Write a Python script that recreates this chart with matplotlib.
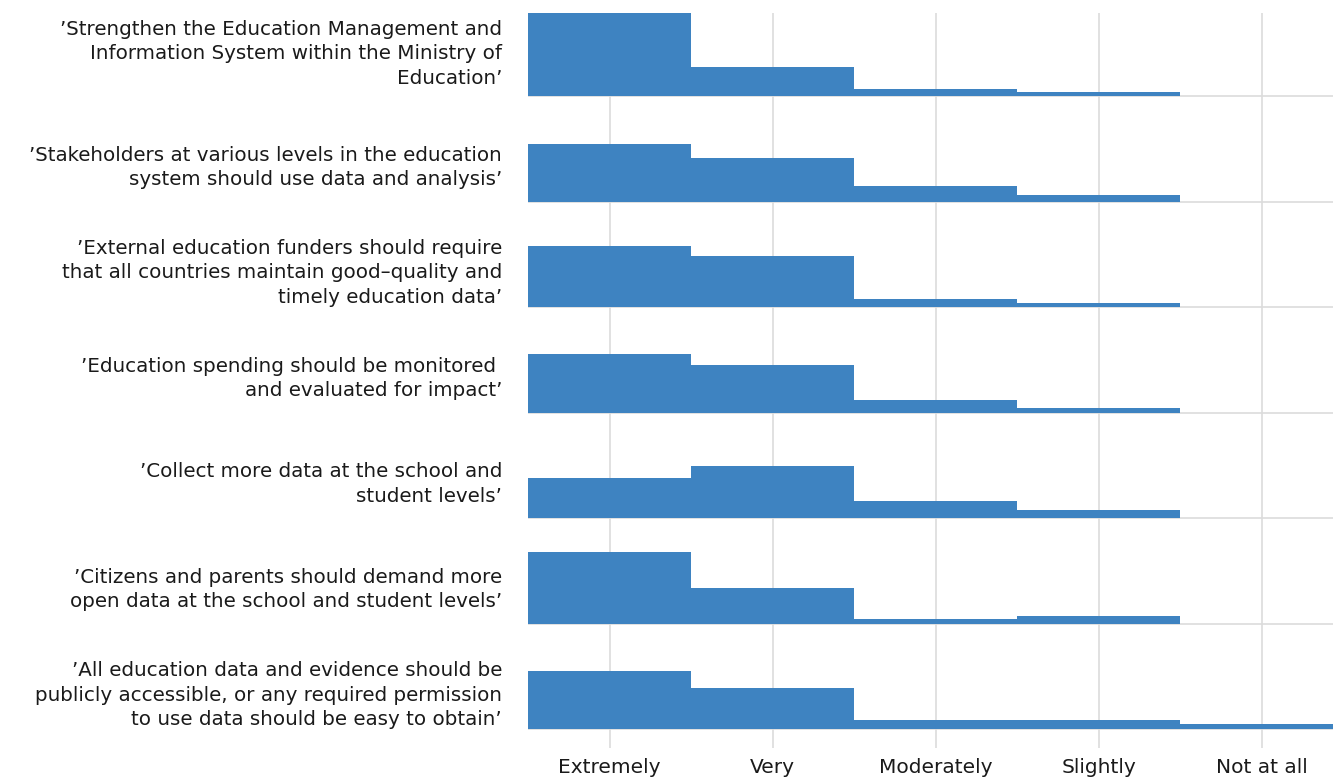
import matplotlib
matplotlib.use("Agg")
import matplotlib.pyplot as plt
import numpy as np

categories = ["Extremely", "Very", "Moderately", "Slightly", "Not at all"]

statements = [
    "\u2019Strengthen the Education Management and\nInformation System within the Ministry of\nEducation\u2019",
    "\u2019Stakeholders at various levels in the education\nsystem should use data and analysis\u2019",
    "\u2019External education funders should require\nthat all countries maintain good\u2013quality and\ntimely education data\u2019",
    "\u2019Education spending should be monitored \nand evaluated for impact\u2019",
    "\u2019Collect more data at the school and\nstudent levels\u2019",
    "\u2019Citizens and parents should demand more\nopen data at the school and student levels\u2019",
    "\u2019All education data and evidence should be\npublicly accessible, or any required permission\nto use data should be easy to obtain\u2019",
]

# percentage of respondents per category
strengthen_emis = [68, 24, 6, 3, 0]
stakeholders_use = [47, 36, 13, 5, 0]
funders_require = [50, 42, 7, 3, 0]
spending_monitored = [48, 39, 10, 4, 0]
collect_more = [33, 43, 14, 7, 0]
citizens_demand = [59, 29, 4, 6, 0]
publicly_accessible = [48, 34, 8, 8, 4]

series = [strengthen_emis, stakeholders_use, funders_require, spending_monitored,
          collect_more, citizens_demand, publicly_accessible]

BAR = "#3e83c1"
GRID = "#dcdcdc"
TEXT = "#1a1a1a"
ROW_STEP = 86.5

W, H = 1333, 779
fig = plt.figure(figsize=(W / 100, H / 100), dpi=100)
ax = fig.add_axes([528 / W, 1 - 748 / H, (W - 528) / W, (748 - 13) / H])

n = len(series)
edges = np.arange(len(categories) + 1) - 0.5
ymax = (n - 1) * ROW_STEP + 68
ymin = -15.3
for i, vals in enumerate(series):
    base = (n - 1 - i) * ROW_STEP
    ax.axhline(base, color=GRID, lw=1.2, zorder=1)
    vals = np.asarray(vals, dtype=float)
    k = np.max(np.nonzero(vals)[0]) + 1
    ax.stairs(vals[:k] + base, edges[:k + 1], baseline=base, fill=True,
              color=BAR, lw=0, zorder=3)
    ly = base + (34.5 if i == 0 else 28)
    ax.text(-26 / (W - 528), ly, statements[i], transform=ax.get_yaxis_transform(),
            ha="right", va="center", fontsize=14.3, color=TEXT,
            linespacing=1.36, family="DejaVu Sans")

ax.set_xlim(-0.5, (W - 610) / 163.0)
ax.set_ylim(ymin, ymax)
ax.set_xticks(range(len(categories)))
ax.set_xticklabels(categories, fontsize=14.5, color=TEXT)
ax.set_yticks([])
ax.tick_params(axis="x", length=0, pad=7)
for x in range(len(categories)):
    ax.axvline(x, color=GRID, lw=1.2, zorder=0)
for s in ax.spines.values():
    s.set_visible(False)

fig.savefig("out.png", dpi=100)
